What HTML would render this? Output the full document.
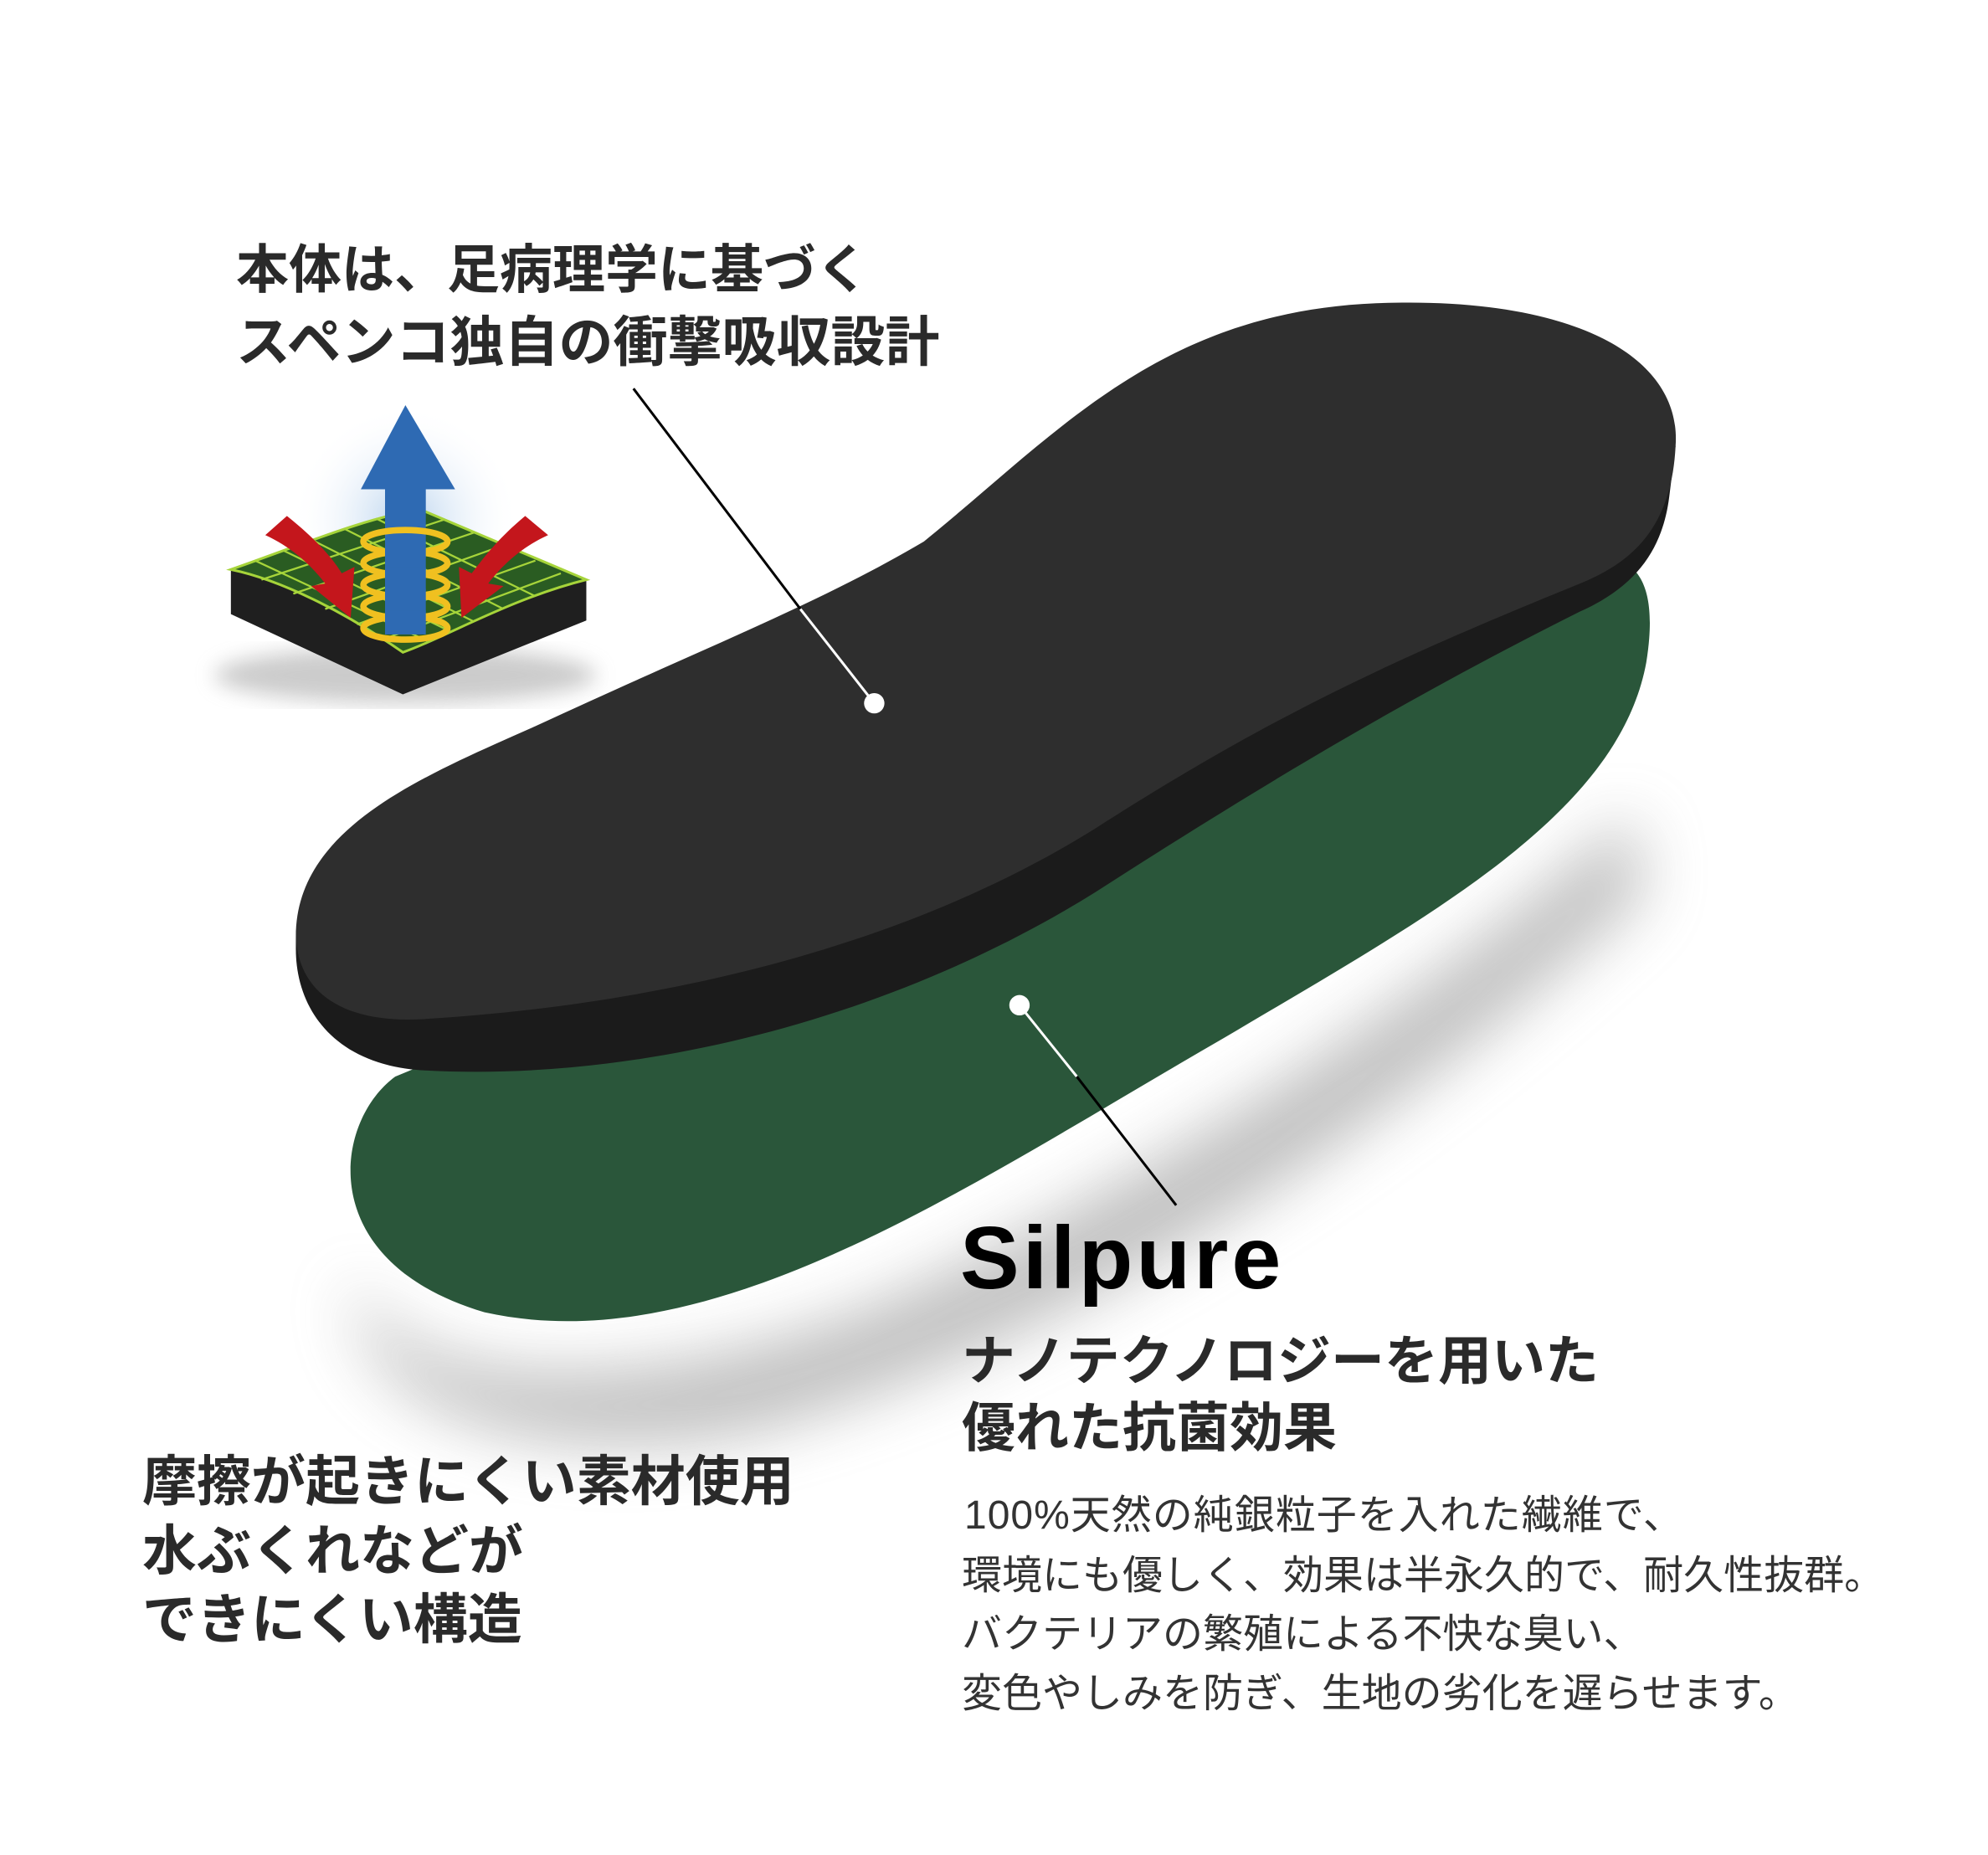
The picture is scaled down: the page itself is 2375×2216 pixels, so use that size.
<!DOCTYPE html>
<html><head><meta charset="utf-8"><style>
html,body{margin:0;padding:0;background:#fff}
body{width:2375px;height:2216px;position:relative;overflow:hidden;font-family:"Liberation Sans","Noto Sans CJK JP",sans-serif}
svg{position:absolute;left:0;top:0}
.t{position:absolute;white-space:nowrap;color:#2a2a2a;font-weight:bold;line-height:1}
.b{position:absolute;white-space:nowrap;color:#333;font-weight:normal;line-height:1;font-size:48px}
</style></head><body>
<svg width="2375" height="2216" viewBox="0 0 1560 1456">
<defs>
<filter id="bl" x="-20%" y="-50%" width="140%" height="200%"><feGaussianBlur stdDeviation="25"/></filter>
<filter id="bl2"><feGaussianBlur stdDeviation="8"/></filter>
<radialGradient id="glow" cx="0.5" cy="0.6" r="0.5"><stop offset="0" stop-color="#b9d3ee"/><stop offset="1" stop-color="#fff" stop-opacity="0"/></radialGradient>
</defs>
<path d="M 280 1000 C 300 1100, 520 1100, 700 1020 C 900 930, 1100 800, 1280 640 L 1290 700 C 1100 880, 850 1050, 600 1120 C 420 1160, 260 1100, 280 1000 Z" fill="#888" opacity="0.55" filter="url(#bl)"/>
<path d="M 310 845 C 262 880, 245 990, 380 1030 C 560 1070, 760 930, 960 815 C 1120 720, 1270 640, 1292 520 C 1300 470, 1290 448, 1272 440 L 1000 560 L 310 845 Z" fill="#2a563a"/>
<path d="M 232 745 C 232 790, 260 835, 330 840 C 500 850, 700 800, 860 700 C 1000 610, 1110 545, 1240 480 C 1285 460, 1305 430, 1310 390 L 1315 350 L 232 735 Z" fill="#1b1b1b"/>
<path d="M 232 735 C 232 650, 330 610, 420 570 C 560 505, 640 475, 725 425 C 830 340, 910 245, 1080 238 C 1235 232, 1320 280, 1315 350 C 1312 410, 1285 440, 1240 458 C 1100 515, 1000 560, 860 650 C 700 750, 500 790, 330 800 C 270 803, 234 780, 232 735 Z" fill="#2e2e2e"/>
<line x1="497" y1="305" x2="628" y2="478" stroke="#000" stroke-width="2"/>
<line x1="628" y1="478" x2="686" y2="552" stroke="#fff" stroke-width="2"/>
<circle cx="686" cy="552" r="8" fill="#fff"/>
<line x1="800" y1="789" x2="845" y2="845" stroke="#fff" stroke-width="2"/>
<line x1="845" y1="845" x2="923" y2="946" stroke="#000" stroke-width="2"/>
<circle cx="800" cy="789" r="8" fill="#fff"/>
<ellipse cx="318" cy="390" rx="90" ry="90" fill="url(#glow)"/>
<ellipse cx="318" cy="530" rx="150" ry="22" fill="#999" opacity="0.5" filter="url(#bl2)"/>
<path d="M 181 447 L 181 482 L 316 545 L 460 487 L 460 455 Z" fill="#1f1f1f"/>
<path d="M 181 447 C 230 430, 290 405, 330 400 L 460 455 C 400 470, 350 500, 316 512 C 270 480, 220 455, 181 447 Z" fill="#2a5c22" stroke="#a6d43a" stroke-width="2"/>
<g stroke="#a6d43a" stroke-width="1.5" fill="none">
<path d="M 200 440 L 335 503"/><path d="M 222 432 L 352 495"/><path d="M 245 424 L 372 488"/><path d="M 270 415 L 395 478"/><path d="M 295 407 L 420 468"/>
<path d="M 205 455 L 348 408"/><path d="M 230 466 L 372 418"/><path d="M 255 478 L 395 428"/><path d="M 280 490 L 420 440"/><path d="M 300 502 L 440 450"/>
</g>
<path d="M 208 420 L 225 405 C 250 425, 262 440, 268 450 L 278 445 L 275 485 L 244 460 L 255 458 C 245 445, 230 430, 208 420 Z" fill="#c4161c"/>
<path d="M 430 420 L 412 405 C 388 425, 378 440, 370 450 L 360 445 L 362 485 L 395 460 L 383 458 C 393 445, 408 430, 430 420 Z" fill="#c4161c"/>
<rect x="302" y="383" width="32" height="115" fill="#2e6ab3"/>
<polygon points="283,384 318,318 357,384" fill="#2e6ab3"/>
<g fill="none" stroke="#f0c020" stroke-width="5">
<ellipse cx="318" cy="425" rx="33" ry="9"/><ellipse cx="318" cy="442" rx="33" ry="9"/><ellipse cx="318" cy="459" rx="33" ry="9"/><ellipse cx="318" cy="476" rx="33" ry="9"/><ellipse cx="318" cy="493" rx="33" ry="9"/>
</g>
<rect x="302" y="428" width="32" height="10" fill="#2e6ab3"/><rect x="302" y="445" width="32" height="10" fill="#2e6ab3"/><rect x="302" y="462" width="32" height="10" fill="#2e6ab3"/><rect x="302" y="479" width="32" height="10" fill="#2e6ab3"/>
</svg>
<div class="t" style="left:282px;top:292px;font-size:63px">本体は、足病理学に基づく</div>
<div class="t" style="left:282px;top:376px;font-size:65px">スペンコ独自の衝撃吸収設計</div>
<div class="t" style="left:1147px;top:1450px;font-size:106px;color:#000;font-weight:900;letter-spacing:4px">Silpure</div>
<div class="t" style="left:1149px;top:1594px;font-size:64px">ナノテクノロジーを用いた</div>
<div class="t" style="left:1149px;top:1674px;font-size:64px">優れた抗菌効果</div>
<div class="b" style="left:1152px;top:1787px;letter-spacing:1px">100%天然の純銀粒子を入れた繊維で、</div>
<div class="b" style="left:1149px;top:1859px">環境にも優しく、効果は半永久的で、耐久性抜群。</div>
<div class="b" style="left:1149px;top:1929px">バクテリアの繁殖による不快な臭い、</div>
<div class="b" style="left:1149px;top:2000px">変色やしみを防ぎ、生地の劣化を遅らせます。</div>
<div class="t" style="left:170px;top:1737px;font-size:65px">摩擦が起きにくい素材使用</div>
<div class="t" style="left:170px;top:1820px;font-size:65px">水ぶくれなどが</div>
<div class="t" style="left:170px;top:1902px;font-size:65px">できにくい構造</div>
</body></html>
